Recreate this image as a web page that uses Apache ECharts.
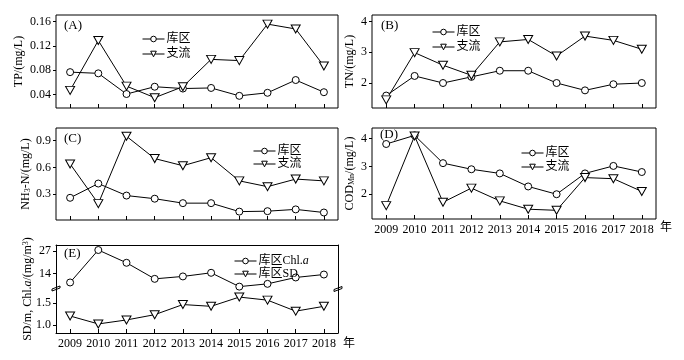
<!DOCTYPE html>
<html>
<head>
<meta charset="utf-8">
<script src="https://cdn.jsdelivr.net/npm/echarts@6/dist/echarts.min.js"></script>
<style>html,body{margin:0;padding:0;background:#fff;}#c{width:684px;height:360px;}</style>
</head>
<body>
<div id="c"></div>
<script>
const years = ['2009','2010','2011','2012','2013','2014','2015','2016','2017','2018'];
const tpReservoir = [0.077,0.075,0.041,0.053,0.050,0.051,0.038,0.043,0.064,0.044];
const tpTributary = [0.047,0.129,0.054,0.035,0.053,0.098,0.096,0.156,0.148,0.087];
const tnReservoir = [1.59,2.23,2.0,2.2,2.4,2.4,2.0,1.76,1.96,2.0];
const tnTributary = [1.45,2.99,2.58,2.25,3.34,3.42,2.88,3.53,3.39,3.10];
const nhReservoir = [0.26,0.42,0.285,0.25,0.20,0.20,0.105,0.11,0.13,0.095];
const nhTributary = [0.64,0.195,0.95,0.70,0.62,0.71,0.45,0.385,0.47,0.45];
const codReservoir = [3.81,4.12,3.12,2.90,2.75,2.28,2.0,2.75,3.02,2.8];
const codTributary = [1.59,4.1,1.71,2.22,1.76,1.46,1.42,2.6,2.56,2.1];
const chla = [8.8,27.6,20.2,10.9,12.3,14.4,6.4,8.0,11.7,13.4];
const sd = [1.20,1.02,1.11,1.23,1.46,1.42,1.63,1.56,1.31,1.42];
const tpTicks = [0.04,0.08,0.12,0.16];
const tnTicks = [2,3,4];
const nhTicks = [0.3,0.6,0.9];
const codTicks = [2,3,4];
const chlTicks = [14,27];
const sdTicks = [1.0,1.5];
const nameRes = '库区', nameTrib = '支流', nameChl = '库区Chl.a', nameSD = '库区SD';

const FONT = '"Liberation Serif","Noto Sans CJK SC",serif';
const chart = echarts.init(document.getElementById('c'), null, {renderer:'canvas'});

const grids = [
  {left:56, top:15, width:282, height:93, show:true, borderColor:'#000', borderWidth:1},
  {left:372, top:15, width:284, height:93, show:true, borderColor:'#000', borderWidth:1},
  {left:56, top:128, width:282, height:92, show:true, borderColor:'#000', borderWidth:1},
  {left:372, top:128, width:284, height:91, show:true, borderColor:'#000', borderWidth:1},
  {left:56, top:245, width:282, height:43},
  {left:56, top:288, width:282, height:45}
];

function xAx(g, showLabel, opts) {
  return Object.assign({
    type:'category', gridIndex:g, data:years, boundaryGap:true,
    axisLine:{show:false},
    axisTick:{show:true, inside:true, alignWithLabel:true, length:4, interval:0, lineStyle:{color:'#000'}},
    axisLabel:{show:showLabel, interval:0, color:'#000', fontFamily:FONT, fontSize:12, margin:5, hideOverlap:false},
    splitLine:{show:false}
  }, opts||{});
}
function yAx(g, min, max, ticks, fmt, name, gap, rich, opts) {
  return Object.assign({
    type:'value', gridIndex:g, min:min, max:max,
    axisLine:{show:false},
    axisTick:{show:true, inside:false, length:3, lineStyle:{color:'#000'}, customValues:ticks},
    axisLabel:{color:'#000', fontFamily:FONT, fontSize:12, margin:5, customValues:ticks, formatter:fmt},
    splitLine:{show:false},
    name:name, nameLocation:'middle', nameRotate:90, nameGap:gap,
    nameTextStyle:{color:'#000', fontFamily:FONT, fontSize:12, rich:rich||{}}
  }, opts||{});
}
const subRich = {sub:{fontSize:8, fontFamily:FONT, color:'#000', verticalAlign:'bottom', padding:[4,0,0,0]}};

const xAxes = [
  xAx(0,false), xAx(1,false), xAx(2,false), xAx(3,true),
  xAx(4,false,{position:'top', axisLine:{show:true, lineStyle:{color:'#000'}}, axisTick:{show:false}}),
  xAx(5,true,{axisLine:{show:true, lineStyle:{color:'#000'}}})
];
const yAxes = [
  yAx(0,0.018,0.171,tpTicks,v=>v.toFixed(2),'TP/(mg/L)',31),
  yAx(1,1.185,4.217,tnTicks,v=>String(v),'TN/(mg/L)',16),
  yAx(2,0.011,1.043,nhTicks,v=>v.toFixed(1),'NH{sub|3}-N/(mg/L)',22,subRich),
  yAx(3,1.107,4.387,codTicks,v=>String(v),'COD{sub|Mn}/(mg/L)',16,subRich),
  yAx(4,5.6,30.5,chlTicks,v=>String(v),'',0,null,{axisLine:{show:true,lineStyle:{color:'#000'}}}),
  yAx(5,0.814,1.836,sdTicks,v=>v.toFixed(1),'',0,null,{axisLine:{show:true,lineStyle:{color:'#000'}}}),
  {type:'value', gridIndex:4, position:'right', min:5.6, max:30.5, axisLine:{show:true,lineStyle:{color:'#000'}}, axisTick:{show:false}, axisLabel:{show:false}, splitLine:{show:false}},
  {type:'value', gridIndex:5, position:'right', min:0.814, max:1.836, axisLine:{show:true,lineStyle:{color:'#000'}}, axisTick:{show:false}, axisLabel:{show:false}, splitLine:{show:false}}
];

function ser(name, data, idx, tri) {
  return {
    type:'line', name:name, data:data, xAxisIndex:idx, yAxisIndex:idx,
    symbol: tri ? 'triangle' : 'circle', symbolRotate: tri ? 180 : 0,
    symbolSize: tri ? [9,8] : 7, showSymbol:true,
    itemStyle:{color:'#fff', borderColor:'#000', borderWidth:1},
    lineStyle:{color:'#000', width:1},
    emphasis:{disabled:true}, animation:false
  };
}
const series = [
  ser(nameRes,tpReservoir,0,false), ser(nameTrib,tpTributary,0,true),
  ser(nameRes,tnReservoir,1,false), ser(nameTrib,tnTributary,1,true),
  ser(nameRes,nhReservoir,2,false), ser(nameTrib,nhTributary,2,true),
  ser(nameRes,codReservoir,3,false), ser(nameTrib,codTributary,3,true),
  ser(nameChl,chla,4,false), ser(nameSD,sd,5,true)
];

function leg(left, top, gap, names) {
  return {
    left:left, top:top, orient:'vertical', itemWidth:22, itemHeight:7, itemGap:gap,
    data:names, selectedMode:false,
    lineStyle:{width:1, color:'#000'},
    itemStyle:{color:'#fff', borderColor:'#000', borderWidth:1},
    textStyle:{color:'#000', fontFamily:FONT, fontSize:12, padding:[0,0,0,-3], lineHeight:12,
      rich:{it:{fontStyle:'italic', fontFamily:FONT, fontSize:12, color:'#000'}}},
    formatter: n => n === nameChl ? '库区Chl.{it|a}' : n
  };
}
const legends = [
  leg(137,28,3,[nameRes,nameTrib]),
  leg(427,21,3,[nameRes,nameTrib]),
  leg(248,140,1,[nameRes,nameTrib]),
  leg(516,142,2,[nameRes,nameTrib]),
  leg(229,250,1,[nameChl,nameSD])
];

function lbl(text, x, y) {
  return {type:'text', left:x, top:y - 7, style:{text:text, fill:'#000', font:'13px ' + FONT}};
}
function breakMark(x, y) {
  return {type:'polygon', shape:{points:[[x-4,y+1.5],[x+4,y-1.5],[x+4,y+0.5],[x-4,y+3.5]]}, style:{fill:'#fff', stroke:'#000', lineWidth:1}};
}

chart.setOption({
  backgroundColor:'#fff',
  animation:false,
  grid:grids, xAxis:xAxes, yAxis:yAxes, series:series, legend:legends,
  graphic:[
    lbl('(A)',64,26), lbl('(B)',381,26), lbl('(C)',64,139), lbl('(D)',380,135),
    lbl('(E)',64,254),
    {type:'text', left:660, top:222, style:{text:'年', fill:'#000', font:'12px ' + FONT}},
    {type:'text', left:343, top:338, style:{text:'年', fill:'#000', font:'12px ' + FONT}},
    {type:'text', x:28, y:289, rotation:Math.PI/2,
      style:{text:'SD/m, Chl.{it|a}/(mg/m{sup|3})', fill:'#000', font:'12px ' + FONT,
        align:'center', verticalAlign:'middle',
        rich:{it:{fontStyle:'italic', fontSize:12, fontFamily:FONT, fill:'#000'},
              sup:{fontSize:8, fontFamily:FONT, fill:'#000', verticalAlign:'top', padding:[0,0,5,0]}}}},
    breakMark(56,287.5), breakMark(338,288)
  ]
});
</script>
</body>
</html>
